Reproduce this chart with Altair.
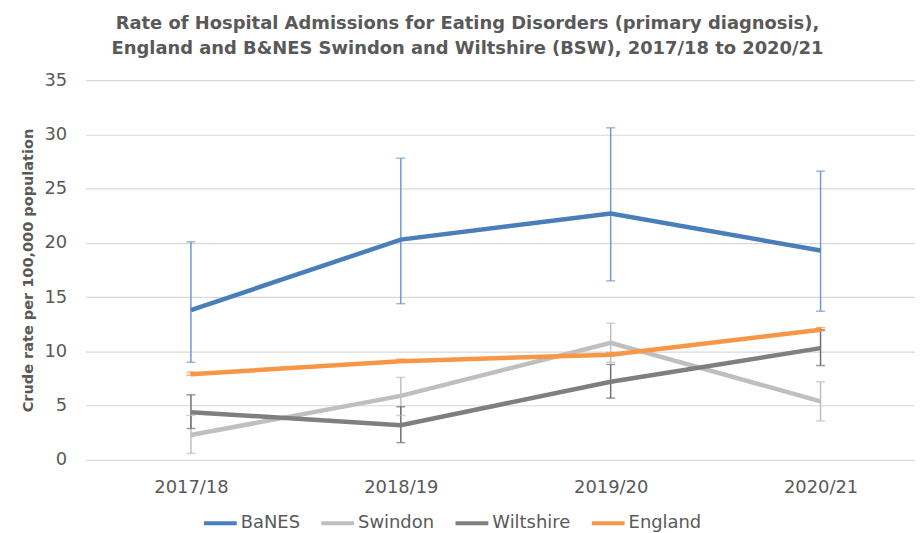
import altair as alt
import pandas as pd

years = ["2017/18", "2018/19", "2019/20", "2020/21"]
series = ["BaNES", "Swindon", "Wiltshire", "England"]

banes = [13.8, 20.3, 22.7, 19.3]
banes_lo = [9.0, 14.4, 16.5, 13.7]
banes_hi = [20.1, 27.8, 30.6, 26.6]

swindon = [2.3, 5.9, 10.8, 5.4]
swindon_lo = [0.6, 4.1, 9.0, 3.6]
swindon_hi = [4.1, 7.6, 12.6, 7.2]

wiltshire = [4.4, 3.2, 7.2, 10.3]
wiltshire_lo = [2.9, 1.6, 5.7, 8.7]
wiltshire_hi = [6.0, 4.9, 8.8, 12.0]

england = [7.9, 9.1, 9.7, 12.0]
england_lo = [7.8, 9.0, 9.6, 11.9]
england_hi = [8.1, 9.3, 9.9, 12.2]

line_colors = ["#4a7ebb", "#bfbfbf", "#7f7f7f", "#f79646"]
err_colors = ["#6f9bd2", "#bfbfbf", "#6f6f6f", "#f79646"]

rows = []
# draw order: Swindon, Wiltshire, England, BaNES (BaNES on top)
for name, v, lo, hi, order in [
    ("Swindon", swindon, swindon_lo, swindon_hi, 0),
    ("Wiltshire", wiltshire, wiltshire_lo, wiltshire_hi, 1),
    ("England", england, england_lo, england_hi, 2),
    ("BaNES", banes, banes_lo, banes_hi, 3),
]:
    for i, (y, a, l, h) in enumerate(zip(years, v, lo, hi)):
        rows.append({"Year": y, "idx": i, "Series": name, "Value": a, "Lo": l, "Hi": h, "ord": order})
df = pd.DataFrame(rows)

TXT = "#595959"
FONT = "DejaVu Sans"
label_expr = "[" + ",".join("'%s'" % y for y in years) + "][datum.value]"
x = alt.X("idx:Q", title=None,
          scale=alt.Scale(domain=[-0.502, 3.45], nice=False, zero=False),
          axis=alt.Axis(values=list(range(len(years))), labelExpr=label_expr,
                        labelAngle=0, labelFontSize=18, labelColor=TXT, labelFont=FONT,
                        ticks=False, domain=False, labelPadding=19, grid=False))
yscale = alt.Scale(domain=[0, 35], nice=False)

color = alt.Color("Series:N", scale=alt.Scale(domain=series, range=line_colors),
                  legend=alt.Legend(orient="none", legendX=117, legendY=427,
                                    direction="horizontal", title=None,
                                    symbolType="stroke", symbolStrokeWidth=4, symbolSize=1089,
                                    labelFontSize=18, labelColor=TXT, labelFont=FONT,
                                    columnPadding=13, labelOffset=2))

base = alt.Chart(df)

lines = base.mark_line(strokeWidth=4.5).encode(
    x=x,
    y=alt.Y("Value:Q", scale=yscale, title="Crude rate per 100,000 population",
            axis=alt.Axis(values=[0, 5, 10, 15, 20, 25, 30, 35], labelFontSize=18, labelColor=TXT,
                          labelFont=FONT, ticks=False, domain=False, labelPadding=19,
                          gridColor="#d9d9d9", gridWidth=1.2,
                          titleFontSize=14.6, titleColor=TXT, titleFont=FONT,
                          titleFontWeight="bold", titlePadding=8)),
    color=color,
    order=alt.Order("ord:Q"),
)

err_scale = alt.Scale(domain=series, range=err_colors)
rules = base.mark_rule(strokeWidth=1.5).encode(
    x=x,
    y=alt.Y("Lo:Q", scale=yscale),
    y2="Hi:Q",
    color=alt.Color("Series:N", scale=err_scale, legend=None),
)
caps_lo = base.mark_tick(thickness=1.5, size=9, orient="horizontal").encode(
    x=x, y=alt.Y("Lo:Q", scale=yscale),
    color=alt.Color("Series:N", scale=err_scale, legend=None))
caps_hi = base.mark_tick(thickness=1.5, size=9, orient="horizontal").encode(
    x=x, y=alt.Y("Hi:Q", scale=yscale),
    color=alt.Color("Series:N", scale=err_scale, legend=None))

chart = alt.layer(rules, caps_lo, caps_hi, lines).resolve_scale(color="independent").properties(
    width=834, height=382,
    autosize=alt.AutoSizeParams(type="none"),
    padding={"left": 78, "top": 71, "right": 0, "bottom": 74},
    title=alt.TitleParams(
        ["Rate of Hospital Admissions for Eating Disorders (primary diagnosis),",
         "England and B&NES Swindon and Wiltshire (BSW), 2017/18 to 2020/21"],
        fontSize=18, font=FONT, fontWeight="bold", color=TXT,
        anchor="middle", dx=-33, offset=13, lineHeight=25),
).configure_view(stroke=None)

chart.save("out.html", embed_options={"renderer": "svg", "actions": False})
